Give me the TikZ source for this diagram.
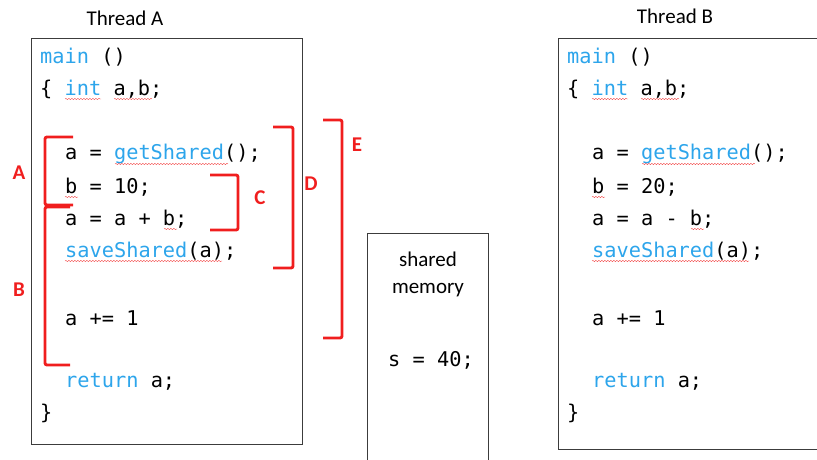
\documentclass[tikz,border=0pt]{standalone}
\usepackage{fontspec}
\setmainfont{Carlito}
\newfontfamily\codefont{DejaVu Sans Mono}
\usetikzlibrary{decorations.pathmorphing}
\definecolor{kwblue}{RGB}{45,165,235}
\definecolor{brkred}{RGB}{240,30,30}
\definecolor{boxgray}{RGB}{60,60,60}
\newcommand{\kw}[1]{\textcolor{kwblue}{#1}}
\begin{document}
\begin{tikzpicture}[x=1pt,y=-1pt,
  code/.style={anchor=west,inner sep=0pt,font=\codefont\fontsize{20.3}{22}\selectfont},
  title/.style={inner sep=0pt,font=\fontsize{21}{27}\selectfont},
  tag/.style={inner sep=0pt,text=brkred,font=\bfseries\fontsize{21}{24}\selectfont},
  brk/.style={draw=brkred,line width=2.9pt,rounded corners=2pt},
  frame/.style={draw=boxgray,line width=0.9pt},
  squig/.style={draw=brkred!80,line width=0.4pt,decorate,decoration={snake,amplitude=0.7pt,segment length=3pt}}]
\useasboundingbox (0,0) rectangle (817,460);
% thread A
\node[title] (tA) at (125,18) {Thread A};
\draw[frame] (31,38) rectangle (302,444);
\node[code] (a1) at (40,57) {\kw{main} ()};
\node[code] (a2) at (40,89) {\{ \kw{int} a,b;};
\node[code] (a3) at (65,154) {a = \kw{getShared}();};
\node[code] (a4) at (65,187) {b = 10;};
\node[code] (a5) at (65,219) {a = a + b;};
\node[code] (a6) at (65,251) {\kw{saveShared}(a);};
\node[code] (a7) at (65,318) {a += 1};
\node[code] (a8) at (65,382) {\kw{return} a;};
\node[code] (a9) at (40,413) {\}};
\draw[squig] (65,99) -- (101,99);
\draw[squig] (114,99) -- (152,99);
\draw[squig] (115,164) -- (228,164);
\draw[squig] (65,197) -- (78,197);
\draw[squig] (164,229) -- (177,229);
\draw[squig] (65,261) -- (222,261);
% brackets
\draw[brk] (73,137) -- (45,137) -- (45,205) -- (73,205);
\draw[brk] (70,207) -- (45,207) -- (45,365) -- (70,365);
\draw[brk] (210,175) -- (238,175) -- (238,230) -- (210,230);
\draw[brk] (273,127) -- (293,127) -- (293,268) -- (273,268);
\draw[brk] (323,120) -- (342,120) -- (342,338) -- (323,338);
\node[tag] (lA) at (19,173) {A};
\node[tag] (lB) at (19,290) {B};
\node[tag] (lC) at (260,198) {C};
\node[tag] (lD) at (311,184) {D};
\node[tag] (lE) at (357,145) {E};
% shared memory
\draw[frame] (367,460) -- (367,233) -- (488,233) -- (488,460);
\node[title,align=center] (mem) at (428,274) {shared\\memory};
\node[code] (s) at (388,360) {s = 40;};
% thread B
\node[title] (tB) at (675,16) {Thread B};
\draw[frame] (817,38) -- (558,38) -- (558,449) -- (817,449);
\node[code] (b1) at (567,57) {\kw{main} ()};
\node[code] (b2) at (567,89) {\{ \kw{int} a,b;};
\node[code] (b3) at (592,154) {a = \kw{getShared}();};
\node[code] (b4) at (592,187) {b = 20;};
\node[code] (b5) at (592,219) {a = a - b;};
\node[code] (b6) at (592,251) {\kw{saveShared}(a);};
\node[code] (b7) at (592,318) {a += 1};
\node[code] (b8) at (592,382) {\kw{return} a;};
\node[code] (b9) at (567,413) {\}};
\draw[squig] (592,99) -- (628,99);
\draw[squig] (641,99) -- (679,99);
\draw[squig] (642,164) -- (755,164);
\draw[squig] (592,197) -- (605,197);
\draw[squig] (691,229) -- (704,229);
\draw[squig] (592,261) -- (749,261);
\end{tikzpicture}
\end{document}
